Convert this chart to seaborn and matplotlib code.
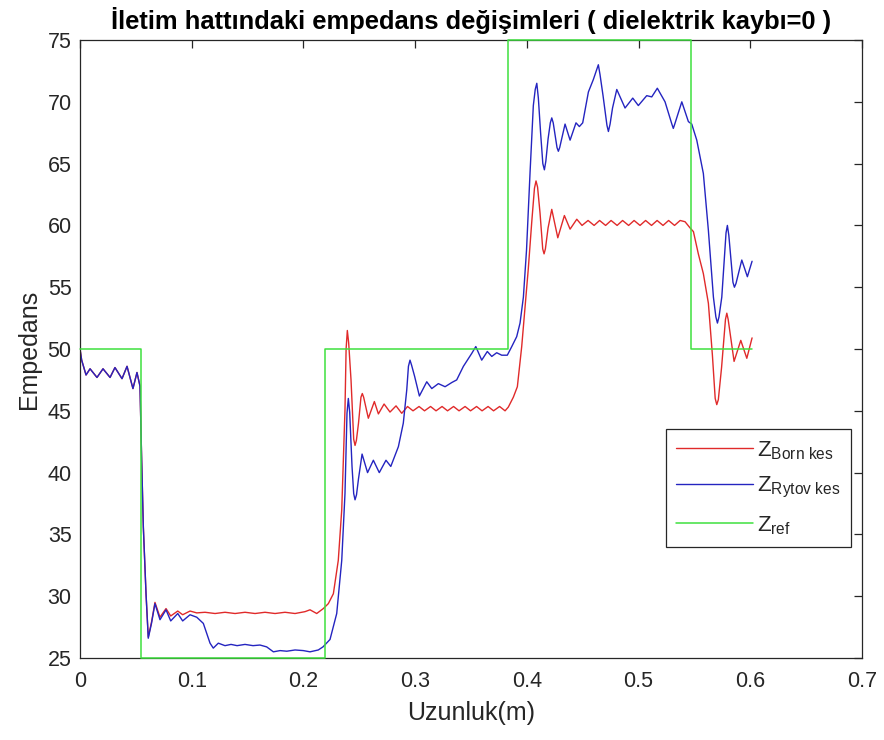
import matplotlib
matplotlib.use("Agg")
import matplotlib.pyplot as plt
import seaborn as sns

# Position along the line (m) and reconstructed impedance (ohm), Rytov inversion
rytov_x = [0.0000, 0.0015, 0.0054, 0.0090, 0.0152, 0.0206, 0.0269, 0.0313, 0.0376, 0.0421,
           0.0474, 0.0510, 0.0537, 0.0552, 0.0567, 0.0591, 0.0611, 0.0640, 0.0671, 0.0716,
           0.0770, 0.0812, 0.0875, 0.0919, 0.0985, 0.1045, 0.1104, 0.1164, 0.1193, 0.1238,
           0.1298, 0.1352, 0.1406, 0.1477, 0.1549, 0.1611, 0.1671, 0.1731, 0.1791, 0.1851,
           0.1925, 0.1999, 0.2059, 0.2133, 0.2175, 0.2238, 0.2298, 0.2343, 0.2372, 0.2390,
           0.2402, 0.2414, 0.2435, 0.2450, 0.2462, 0.2475, 0.2493, 0.2525, 0.2574, 0.2626,
           0.2679, 0.2739, 0.2782, 0.2850, 0.2894, 0.2925, 0.2940, 0.2954, 0.2968, 0.2995,
           0.3038, 0.3104, 0.3149, 0.3208, 0.3268, 0.3330, 0.3372, 0.3432, 0.3507, 0.3543,
           0.3596, 0.3646, 0.3686, 0.3730, 0.3775, 0.3825, 0.3865, 0.3909, 0.3939, 0.3969,
           0.3997, 0.4029, 0.4058, 0.4075, 0.4089, 0.4103, 0.4123, 0.4143, 0.4157, 0.4170,
           0.4190, 0.4210, 0.4223, 0.4236, 0.4270, 0.4282, 0.4294, 0.4342, 0.4387, 0.4440,
           0.4470, 0.4500, 0.4551, 0.4595, 0.4625, 0.4640, 0.4655, 0.4682, 0.4717, 0.4730,
           0.4745, 0.4767, 0.4805, 0.4879, 0.4948, 0.4998, 0.5073, 0.5118, 0.5168, 0.5237,
           0.5298, 0.5311, 0.5324, 0.5387, 0.5446, 0.5476, 0.5521, 0.5580, 0.5625, 0.5670,
           0.5692, 0.5706, 0.5720, 0.5745, 0.5783, 0.5795, 0.5808, 0.5845, 0.5858, 0.5872,
           0.5924, 0.5974, 0.6016]
rytov_y = [50.0, 49.1, 47.9, 48.4, 47.7, 48.4, 47.7, 48.5, 47.6, 48.6,
           46.8, 48.1, 47.0, 41.0, 35.6, 30.2, 26.6, 27.8, 29.4, 28.1,
           28.9, 28.0, 28.6, 28.0, 28.5, 28.3, 27.8, 26.2, 25.8, 26.2,
           26.0, 26.1, 26.0, 26.1, 26.0, 26.05, 25.9, 25.5, 25.6, 25.55,
           25.65, 25.6, 25.5, 25.65, 25.9, 26.5, 28.6, 32.9, 38.3, 44.8,
           46.0, 44.9, 40.5, 38.3, 37.8, 38.2, 39.5, 41.5, 40.0, 41.0,
           40.0, 41.0, 40.5, 42.1, 44.0, 46.7, 48.6, 49.1, 48.7, 47.8,
           46.2, 47.35, 46.8, 47.2, 46.95, 47.3, 47.5, 48.6, 49.65, 50.2,
           49.1, 49.8, 49.4, 49.7, 49.5, 49.5, 50.2, 51.0, 52.1, 54.2,
           58.0, 64.35, 69.7, 71.0, 71.5, 70.3, 67.5, 65.0, 64.5, 65.2,
           67.0, 68.3, 68.7, 68.3, 66.3, 66.0, 66.3, 68.2, 66.9, 68.3,
           68.0, 68.3, 70.8, 71.8, 72.6, 73.0, 72.2, 70.5, 68.1, 67.6,
           68.2, 69.5, 71.0, 69.5, 70.3, 69.7, 70.5, 70.4, 71.1, 70.0,
           68.2, 67.85, 68.2, 70.0, 68.4, 68.2, 66.9, 64.2, 59.6, 54.2,
           52.6, 52.1, 52.6, 54.2, 59.4, 60.0, 59.2, 55.4, 55.0, 55.3,
           57.2, 55.85, 57.1]

# Born inversion
born_x = [0.0000, 0.0015, 0.0054, 0.0090, 0.0152, 0.0206, 0.0269, 0.0313, 0.0376, 0.0421,
          0.0474, 0.0510, 0.0537, 0.0552, 0.0567, 0.0591, 0.0611, 0.0640, 0.0671, 0.0716,
          0.0770, 0.0812, 0.0875, 0.0919, 0.0985, 0.1045, 0.1119, 0.1209, 0.1298, 0.1388,
          0.1477, 0.1567, 0.1656, 0.1746, 0.1835, 0.1925, 0.2014, 0.2059, 0.2119, 0.2178,
          0.2223, 0.2268, 0.2312, 0.2343, 0.2372, 0.2382, 0.2393, 0.2405, 0.2426, 0.2450,
          0.2462, 0.2474, 0.2493, 0.2515, 0.2527, 0.2539, 0.2581, 0.2635, 0.2671, 0.2722,
          0.2775, 0.2829, 0.2880, 0.2932, 0.2981, 0.3035, 0.3084, 0.3138, 0.3187, 0.3241,
          0.3290, 0.3344, 0.3393, 0.3447, 0.3496, 0.3550, 0.3599, 0.3653, 0.3702, 0.3756,
          0.3805, 0.3834, 0.3879, 0.3915, 0.3954, 0.3984, 0.4013, 0.4044, 0.4068, 0.4082,
          0.4096, 0.4118, 0.4142, 0.4154, 0.4166, 0.4190, 0.4223, 0.4277, 0.4336, 0.4387,
          0.4447, 0.4494, 0.4548, 0.4602, 0.4651, 0.4705, 0.4754, 0.4808, 0.4857, 0.4911,
          0.4960, 0.5013, 0.5063, 0.5116, 0.5166, 0.5219, 0.5269, 0.5322, 0.5372, 0.5416,
          0.5461, 0.5491, 0.5535, 0.5580, 0.5625, 0.5661, 0.5686, 0.5700, 0.5714, 0.5743,
          0.5778, 0.5790, 0.5802, 0.5824, 0.5855, 0.5915, 0.5969, 0.6016]
born_y = [50.0, 49.1, 47.9, 48.4, 47.7, 48.4, 47.7, 48.5, 47.6, 48.6,
          46.8, 48.1, 47.0, 41.0, 35.6, 30.2, 26.7, 27.9, 29.5, 28.3,
          29.0, 28.4, 28.8, 28.5, 28.8, 28.65, 28.7, 28.6, 28.7, 28.6,
          28.7, 28.6, 28.7, 28.6, 28.7, 28.6, 28.75, 28.9, 28.6, 29.0,
          29.4, 30.2, 32.9, 37.0, 45.1, 50.0, 51.5, 50.5, 47.5, 42.7,
          42.2, 42.6, 44.0, 46.1, 46.4, 46.1, 44.4, 45.75, 44.75, 45.55,
          44.9, 45.4, 44.8, 45.35, 45.0, 45.35, 45.0, 45.35, 45.0, 45.35,
          45.0, 45.35, 45.0, 45.35, 45.0, 45.35, 45.0, 45.35, 45.0, 45.35,
          45.0, 45.3, 46.1, 46.95, 50.2, 53.4, 56.5, 60.3, 63.0, 63.6,
          63.1, 61.0, 58.1, 57.7, 58.1, 59.8, 61.3, 59.0, 60.8, 59.7,
          60.5, 60.0, 60.4, 60.0, 60.4, 60.0, 60.4, 60.0, 60.4, 60.0,
          60.4, 60.0, 60.4, 60.0, 60.4, 60.0, 60.4, 60.0, 60.4, 60.3,
          59.8, 59.5, 57.7, 56.1, 53.7, 49.5, 46.0, 45.5, 45.9, 48.5,
          52.4, 52.9, 52.4, 51.0, 49.0, 50.7, 49.25, 50.9]

# Reference impedance profile (piecewise constant)
ref_x = [0.0, 0.0546, 0.219, 0.383, 0.547, 0.6016]
ref_y = [50, 25, 50, 75, 50, 50]

labels = [r"Z$_{\mathrm{Born\ kes}}$", r"Z$_{\mathrm{Rytov\ kes}}$", r"Z$_{\mathrm{ref}}$"]
x_ticks = [0, 0.1, 0.2, 0.3, 0.4, 0.5, 0.6, 0.7]
x_tick_labels = ["0", "0.1", "0.2", "0.3", "0.4", "0.5", "0.6", "0.7"]
y_ticks = [25, 30, 35, 40, 45, 50, 55, 60, 65, 70, 75]

sns.set_theme(style="white")
plt.rcParams["font.family"] = ["Liberation Sans", "DejaVu Sans"]
plt.rcParams["mathtext.fontset"] = "custom"
plt.rcParams["mathtext.rm"] = "Liberation Sans"
plt.rcParams["mathtext.it"] = "Liberation Sans:italic"
plt.rcParams["mathtext.bf"] = "Liberation Sans:bold"
plt.rcParams["lines.solid_joinstyle"] = "round"

ink = "#262626"
fig = plt.figure(figsize=(8.84, 7.40), dpi=100)
ax = fig.add_axes([0.0905, 0.1108, 0.8846, 0.8351])

sns.lineplot(x=born_x, y=born_y, ax=ax, color="#e02a2a", linewidth=1.0,
             sort=False, estimator=None, label=labels[0])
sns.lineplot(x=rytov_x, y=rytov_y, ax=ax, color="#2424c0", linewidth=1.0,
             sort=False, estimator=None, label=labels[1])
sns.lineplot(x=ref_x, y=ref_y, ax=ax, color="#3ee03e", linewidth=1.1,
             sort=False, estimator=None, label=labels[2],
             drawstyle="steps-post", clip_on=False, zorder=5)

ax.set_xlim(0, 0.7)
ax.set_ylim(25, 75)
ax.set_xticks(x_ticks)
ax.set_xticklabels(x_tick_labels)
ax.set_yticks(y_ticks)

for side in ["left", "right", "top", "bottom"]:
    ax.spines[side].set_visible(True)
    ax.spines[side].set_color(ink)
    ax.spines[side].set_linewidth(0.9)

ax.tick_params(axis="both", direction="in", length=6, width=0.9,
               top=True, right=True, labelsize=15.5, colors=ink)
ax.tick_params(axis="x", pad=9)
ax.tick_params(axis="y", pad=6)

ax.set_title("İletim hattındaki empedans değişimleri ( dielektrik kaybı=0 )",
             fontsize=18.4, fontweight="bold", color="black", pad=8)
ax.set_xlabel("Uzunluk(m)", fontsize=18, color=ink, labelpad=7)
ax.set_ylabel("Empedans", fontsize=18, color=ink, labelpad=5)

leg = ax.legend(loc="upper right", bbox_to_anchor=(0.9855, 0.3706),
                fontsize=16, handlelength=3.45, frameon=True, fancybox=False,
                framealpha=1, edgecolor=ink, borderpad=0.45, labelspacing=0.62,
                handletextpad=0.2, borderaxespad=0)
leg.get_frame().set_linewidth(0.9)

fig.savefig("out.png", dpi=100)
